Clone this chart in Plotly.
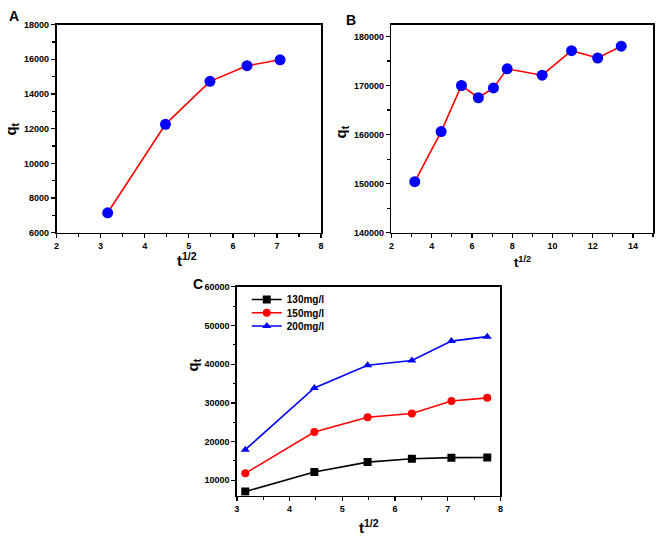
import plotly.graph_objects as go

# ---- data ----
xA = [3.16, 4.47, 5.48, 6.32, 7.07]
qA = [7150, 12250, 14730, 15630, 15970]

xB = [3.16, 4.47, 5.48, 6.32, 7.07, 7.75, 9.49, 10.95, 12.25, 13.42]
qB = [150400, 160600, 170000, 167500, 169500, 173400, 172100, 177100, 175600, 178000]

xC = [3.16, 4.47, 5.48, 6.32, 7.07, 7.75]
q130 = [7100, 12150, 14700, 15550, 15850, 15900]
q150 = [11800, 22450, 26300, 27250, 30500, 31300]
q200 = [17900, 33850, 39700, 40950, 45950, 47100]
seriesC_names = ["130mg/l", "150mg/l", "200mg/l"]

FONT = "Liberation Sans, Arial, sans-serif"
W, H = 660, 543

fig = go.Figure()

fig.add_trace(go.Scatter(x=xA, y=qA, mode="lines+markers", xaxis="x", yaxis="y",
                         line=dict(color="#ff0000", width=1.6),
                         marker=dict(color="#0000ff", size=11, symbol="circle"),
                         showlegend=False))
fig.add_trace(go.Scatter(x=xB, y=qB, mode="lines+markers", xaxis="x2", yaxis="y2",
                         line=dict(color="#ff0000", width=1.6),
                         marker=dict(color="#0000ff", size=11, symbol="circle"),
                         showlegend=False))
styles = [("#000000", "square"), ("#ff0000", "circle"), ("#0000ff", "triangle-up")]
legend_ids = ["legend", "legend2", "legend3"]
for name, ys, (col, sym), lg in zip(seriesC_names, [q130, q150, q200], styles, legend_ids):
    fig.add_trace(go.Scatter(x=xC, y=ys, mode="lines+markers", xaxis="x3", yaxis="y3",
                             name=name, legend=lg, line=dict(color=col, width=1.6),
                             marker=dict(color=col, size=8, symbol=sym)))

def px(x0, x1):
    return [x0 / W, x1 / W]
def py(top, bottom):
    return [1 - bottom / H, 1 - top / H]

tickfont = dict(family=FONT, size=9, color="black", weight="bold")
def axis(**kw):
    d = dict(showline=True, linecolor="black", linewidth=1.6, mirror=True,
             ticks="outside", ticklen=4, tickwidth=1.3, tickcolor="black",
             showgrid=False, zeroline=False, tickfont=tickfont, tickformat="d")
    d.update(kw)
    return d

def minor(step):
    return dict(ticks="outside", ticklen=2.5, tickwidth=1.1, tickcolor="black",
                showgrid=False, dtick=step)

legfont = dict(family=FONT, size=10, color="black", weight="bold")
def leg(yc):
    return dict(x=246 / W, y=1 - yc / H, xanchor="left", yanchor="middle",
                bgcolor="rgba(0,0,0,0)", font=legfont, itemwidth=30,
                borderwidth=0)

fig.update_layout(
    width=W, height=H, margin=dict(l=0, r=0, t=0, b=0),
    paper_bgcolor="white", plot_bgcolor="white", hovermode=False,
    xaxis=axis(domain=px(54, 321), range=[2, 8], dtick=1, anchor="y", minor=minor(0.5)),
    yaxis=axis(domain=py(20, 232), range=[6000, 18000], dtick=2000, anchor="x", minor=minor(1000)),
    xaxis2=axis(domain=px(392, 656), range=[2, 15], dtick=2, anchor="y2", minor=minor(1)),
    yaxis2=axis(domain=py(20, 232), range=[140000, 182400], dtick=10000, anchor="x2", minor=minor(5000)),
    xaxis3=axis(domain=px(236, 502), range=[3, 8], dtick=1, anchor="y3", minor=minor(0.5)),
    yaxis3=axis(domain=py(287, 500), range=[6000, 60000], dtick=10000, tick0=0, anchor="x3", minor=minor(5000)),
    legend=leg(300), legend2=leg(313.5), legend3=leg(327),
    showlegend=True,
)

titlefont = dict(family=FONT, size=15, color="black", weight="bold")
# panel letters
for label, x, y in [("A", 4, 11), ("B", 344, 15), ("C", 190, 284)]:
    fig.add_annotation(text=label, xref="paper", yref="paper", x=x / W, y=1 - y / H,
                       xanchor="left", yanchor="middle", showarrow=False,
                       font=dict(family=FONT, size=14, color="black", weight="bold"))
# axis titles
ytitles = [(9, 126), (342, 129), (192, 367)]
for x, y in ytitles:
    fig.add_annotation(text="q<sub>t</sub>", xref="paper", yref="paper", x=x / W, y=1 - y / H,
                       xanchor="center", yanchor="middle", showarrow=False, textangle=-90,
                       font=titlefont)
xtitles = [(186, 259, 15), (524, 262, 13), (369, 531, 15)]
for x, y, s in xtitles:
    fig.add_annotation(text="t<sup>1/2</sup>", xref="paper", yref="paper", x=x / W, y=1 - y / H,
                       xanchor="center", yanchor="middle", showarrow=False,
                       font=dict(family=FONT, size=s, color="black", weight="bold"))

fig.write_html("out.html", config={"displayModeBar": False, "staticPlot": True},
               post_script="document.body.style.margin='0';document.body.style.overflow='hidden';")
